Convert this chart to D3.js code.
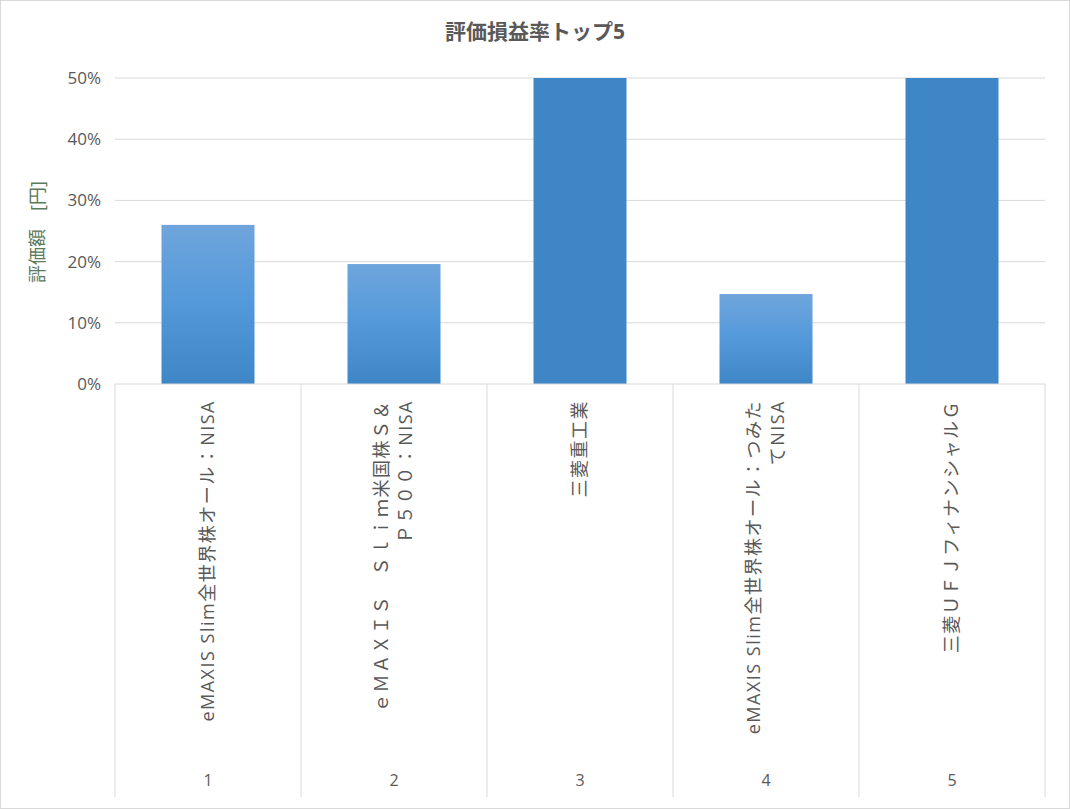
<!DOCTYPE html>
<html><head><meta charset="utf-8">
<script src="https://cdn.jsdelivr.net/npm/d3@7"></script>
<style>body{margin:0;background:#fff;font-family:"Open Sans","Noto Sans CJK JP",sans-serif;}</style>
</head><body><div id="chart"></div>
<script>
// data
const ranks = ["1", "2", "3", "4", "5"];
const names = [
    ["eMAXIS Slim全世界株オール：NISA"],
    ["ｅＭＡＸＩＳ　Ｓｌｉｍ米国株Ｓ＆", "Ｐ５００：NISA"],
    ["三菱重工業"],
    ["eMAXIS Slim全世界株オール：つみた", "てNISA"],
    ["三菱ＵＦＪフィナンシャルＧ"]
];
const rates = [0.26, 0.196, 0.62, 0.147, 0.58];
const yTicks = [0, 0.1, 0.2, 0.3, 0.4, 0.5];

const W = 1070, H = 809;
const margin = {top: 78, right: 25, bottom: 425, left: 115};
const width = W - margin.left - margin.right;
const height = H - margin.top - margin.bottom;

const svg = d3.select("#chart").append("svg").attr("width", W).attr("height", H);
svg.append("rect").attr("x", 0.5).attr("y", 0.5).attr("width", W - 1).attr("height", H - 1)
    .attr("fill", "#fff").attr("stroke", "#d9d9d9");

const defs = svg.append("defs");
const grad = defs.append("linearGradient").attr("id", "barGrad").attr("x1", 0).attr("y1", 0).attr("x2", 0).attr("y2", 1);
grad.append("stop").attr("offset", "0%").attr("stop-color", "#6fa5dc");
grad.append("stop").attr("offset", "50%").attr("stop-color", "#5399da");
grad.append("stop").attr("offset", "100%").attr("stop-color", "#3f86c7");
defs.append("clipPath").attr("id", "plotClip").append("rect").attr("width", width).attr("height", height);

const g = svg.append("g").attr("transform", "translate(" + margin.left + "," + margin.top + ")");

const x = d3.scaleBand().domain(ranks).range([0, width]).paddingInner(0.5).paddingOuter(0.25);
const xb = d3.scaleBand().domain(ranks).range([0, width]);
const y = d3.scaleLinear().domain([0, 0.5]).range([height, 0]);

// gridlines
g.selectAll(".grid").data(yTicks.slice(1)).enter().append("line")
    .attr("x1", 0).attr("x2", width).attr("y1", d => y(d)).attr("y2", d => y(d))
    .attr("stroke", "#d9d9d9").attr("stroke-width", 1);

// y labels
g.selectAll(".ytick").data(yTicks).enter().append("text")
    .attr("x", -14).attr("y", d => y(d)).attr("dy", "0.35em")
    .attr("text-anchor", "end").attr("font-size", 17).attr("fill", "#595959")
    .text(d3.format(".0%"));

// bars
g.append("g").attr("clip-path", "url(#plotClip)").selectAll("rect").data(rates).enter().append("rect")
    .attr("x", (d, i) => x(ranks[i])).attr("width", x.bandwidth())
    .attr("y", d => y(d)).attr("height", d => height - y(d))
    .attr("fill", d => d > 0.5 ? "#3f86c7" : "url(#barGrad)");

// category lines
const catBottom = H - 12 - margin.top;
g.append("line").attr("x1", 0).attr("x2", width).attr("y1", height).attr("y2", height).attr("stroke", "#d9d9d9");
g.selectAll(".cat").data(d3.range(ranks.length + 1)).enter().append("line")
    .attr("x1", i => i * xb.bandwidth()).attr("x2", i => i * xb.bandwidth())
    .attr("y1", height).attr("y2", catBottom).attr("stroke", "#d9d9d9");

// category names
names.forEach((lines, i) => {
    const cx = xb(ranks[i]) + xb.bandwidth() / 2;
    const n = lines.length;
    const t = g.append("text")
        .attr("transform", "translate(" + cx + "," + (height + 16) + ") rotate(-90)")
        .attr("text-anchor", "end").attr("font-size", 18).attr("letter-spacing", 1.5)
        .attr("fill", "#595959");
    lines.forEach((l, j) => {
        t.append("tspan").attr("x", 0).attr("y", (j - (n - 1) / 2) * 24).attr("dy", "0.35em").text(l);
    });
});

// ranks
g.selectAll(".rank").data(ranks).enter().append("text")
    .attr("x", d => xb(d) + xb.bandwidth() / 2).attr("y", 780 - margin.top).attr("dy", "0.35em")
    .attr("text-anchor", "middle").attr("font-size", 16).attr("fill", "#595959").text(d => d);

// axis title
svg.append("text").attr("transform", "translate(38,232) rotate(-90)")
    .attr("text-anchor", "middle").attr("dy", "0.35em").attr("font-size", 18).attr("fill", "#5b7a5b")
    .text("評価額　[円]");

// title
svg.append("text").attr("x", W / 2).attr("y", 32).attr("dy", "0.35em")
    .attr("text-anchor", "middle").attr("font-size", 21).attr("font-weight", "bold").attr("fill", "#595959")
    .text("評価損益率トップ5");
</script></body></html>
